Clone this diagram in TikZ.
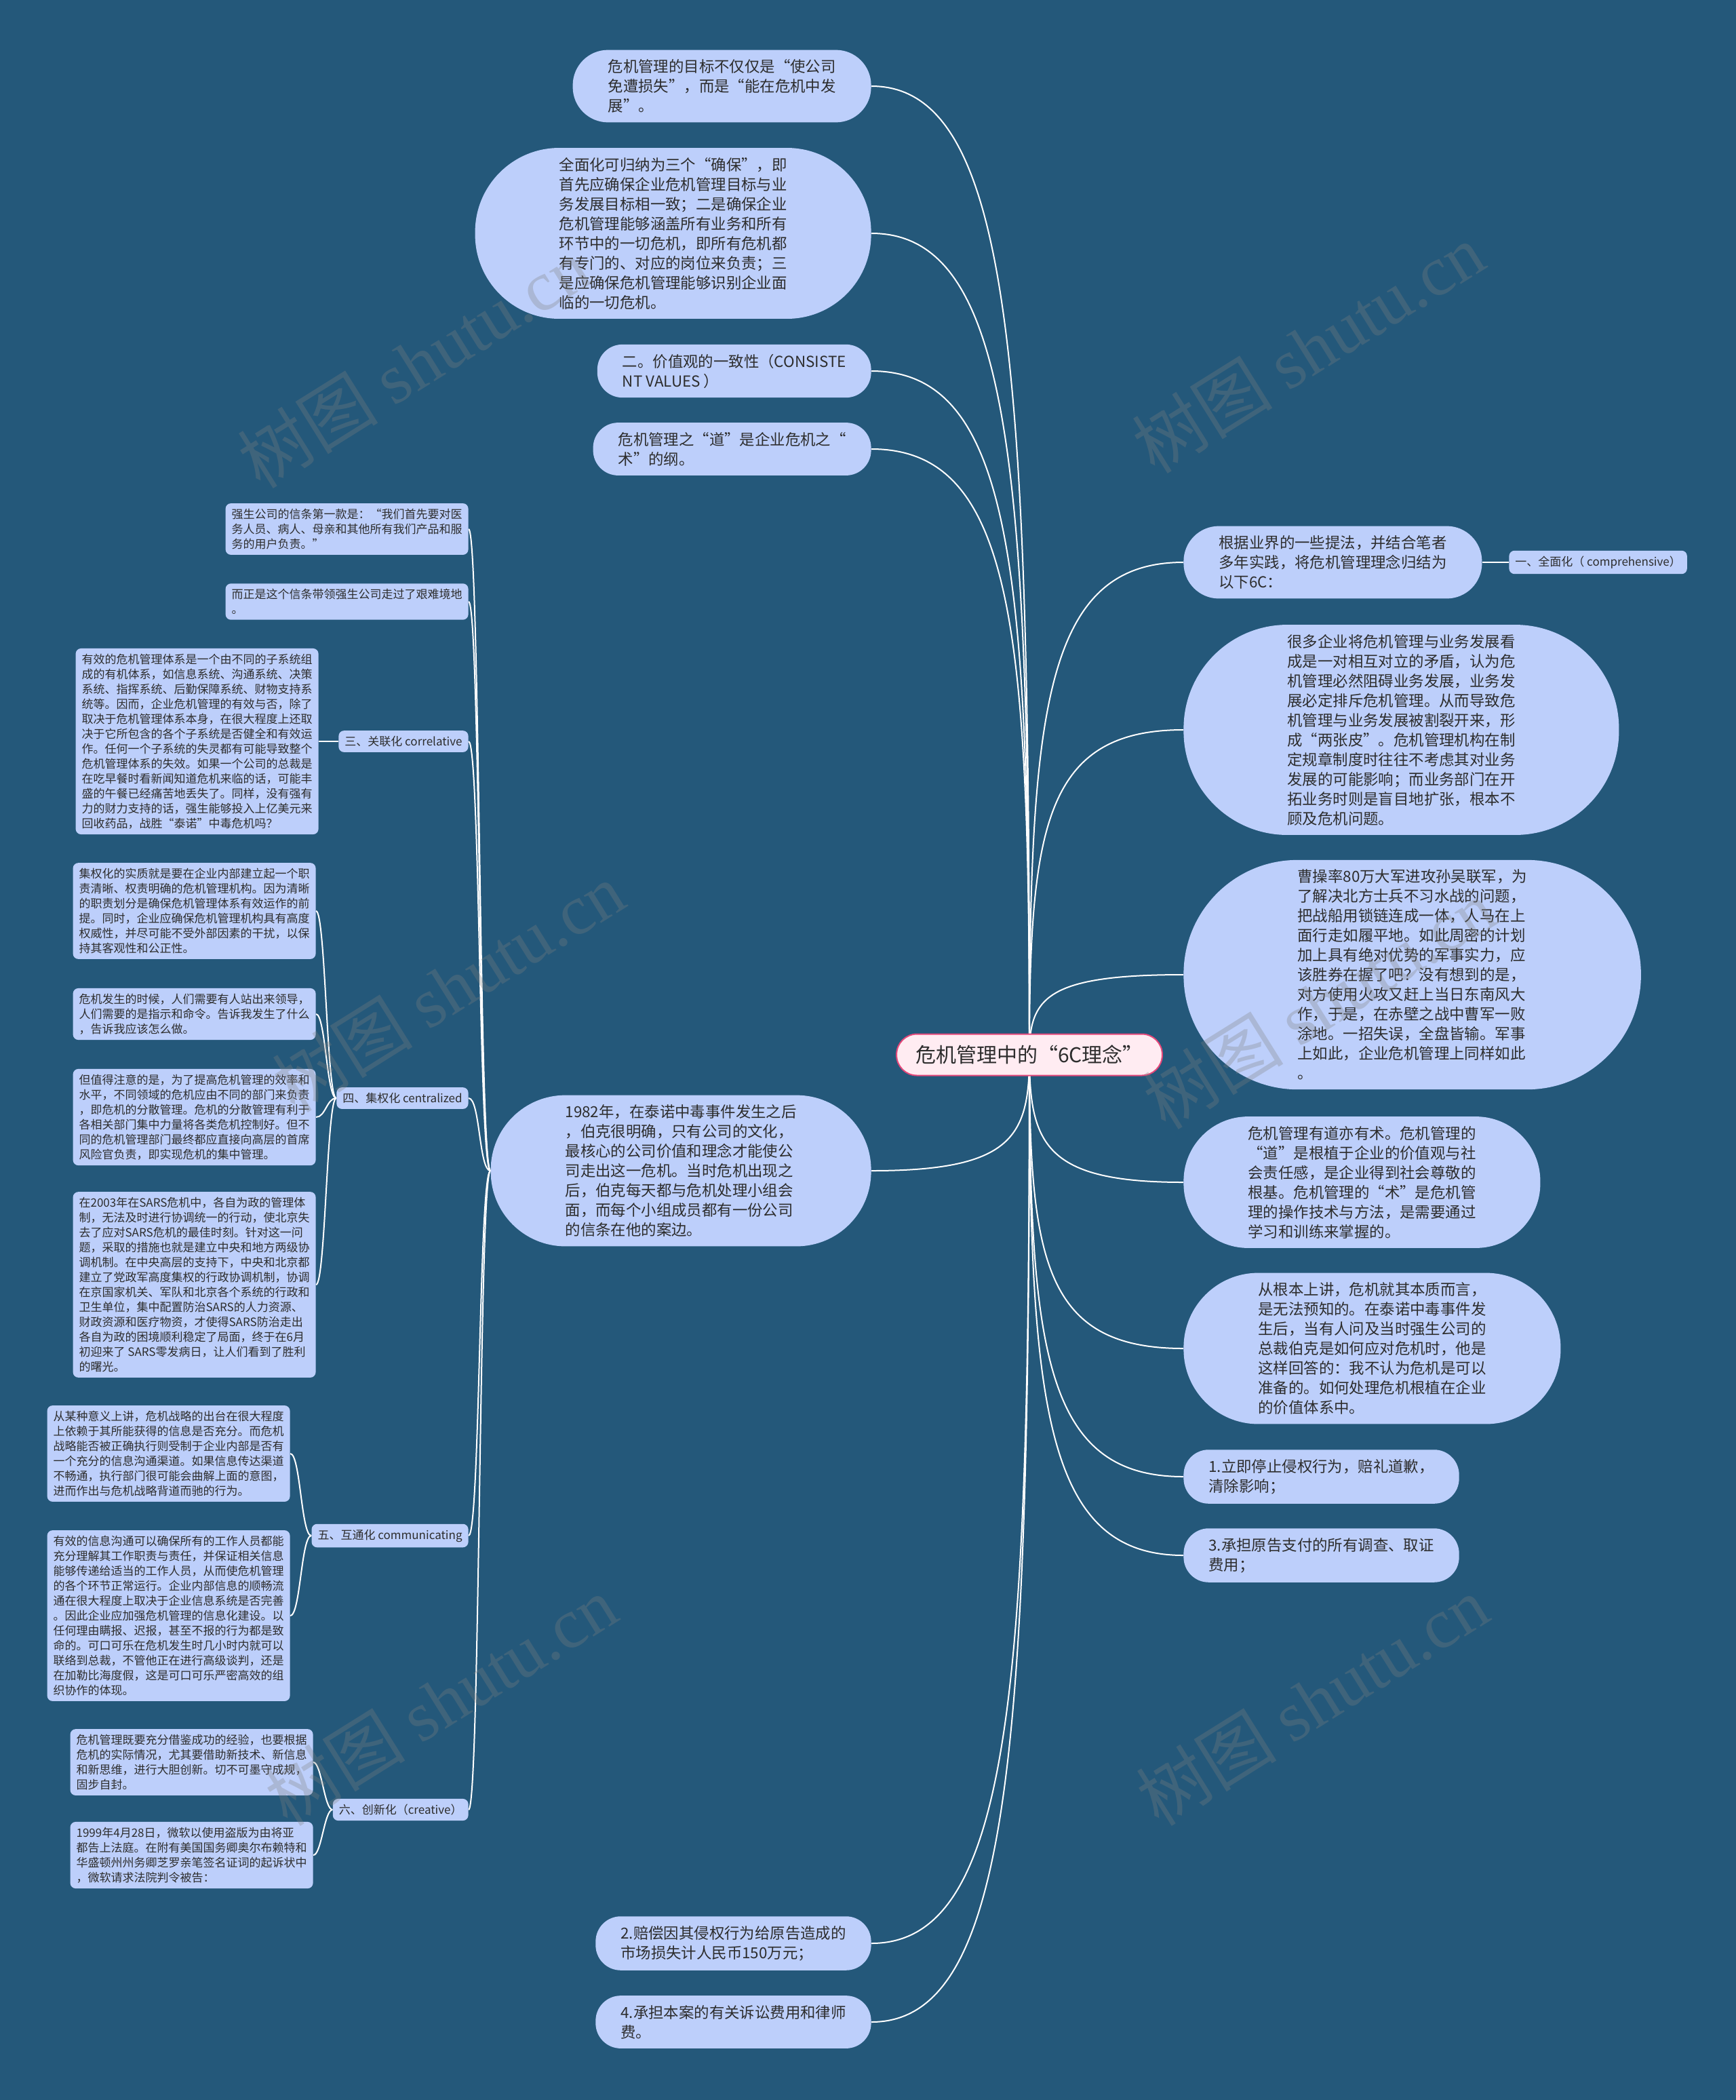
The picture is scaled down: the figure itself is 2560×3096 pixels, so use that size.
\documentclass[tikz,border=0pt]{standalone}
\usepackage{fontspec}
\setmainfont{Noto Sans CJK SC}
\newfontfamily\wmfont{Liberation Serif}
\usetikzlibrary{calc}
\definecolor{bgblue}{RGB}{36,88,122}
\definecolor{pill}{RGB}{189,207,251}
\definecolor{ink}{RGB}{45,45,45}
\definecolor{rootfill}{RGB}{255,236,242}
\definecolor{rootline}{RGB}{228,72,122}
\pgfdeclarelayer{links}
\pgfsetlayers{links,main}
\tikzset{
  big/.style={rectangle, rounded corners=#1, inner xsep=#1, inner ysep=7pt, fill=pill, text=ink, align=left, font=\fontsize{11.2pt}{14.5pt}\selectfont},
  small/.style={rectangle, rounded corners=4pt, fill=pill, text=ink, align=left, inner xsep=4.5pt, inner ysep=4pt, font=\fontsize{8.5pt}{11pt}\selectfont},
  trunk/.style={draw=white, line width=1pt, to path={.. controls ($(\tikztostart)!0.7!(\tikztostart |- \tikztotarget)$) and ($(\tikztotarget)!0.9!(\tikztostart |- \tikztotarget)$) .. (\tikztotarget)}},
  sub/.style={draw=white, line width=1pt, out=180, in=0, out distance=#1, in distance=#1},
  sub/.default=7pt,
  wm/.style={rotate=32, text=gray, opacity=0.3, font=\fontsize{52pt}{52pt}\selectfont}
}
\begin{document}
\begin{tikzpicture}[x=0.5pt, y=-0.5pt]
\useasboundingbox (0,0) rectangle (2560,3096);

\node[rectangle, rounded corners=15pt, fill=rootfill, draw=rootline, line width=1pt, text=ink, inner xsep=14pt, inner ysep=0pt, minimum height=30.5pt, font=\fontsize{15pt}{18pt}\selectfont] (root) at (1518,1555) {危机管理中的“6C理念”};

% left column
\node[big=26pt, anchor=east] (n1) at (1285,127) {危机管理的目标不仅仅是“使公司\\免遭损失”，而是“能在危机中发\\展”。};
\node[big=62pt, anchor=east] (n2) at (1285,344) {全面化可归纳为三个“确保”，即\\首先应确保企业危机管理目标与业\\务发展目标相一致；二是确保企业\\危机管理能够涵盖所有业务和所有\\环节中的一切危机，即所有危机都\\有专门的、对应的岗位来负责；三\\是应确保危机管理能够识别企业面\\临的一切危机。};
\node[big=18.5pt, anchor=east] (n3) at (1285,547) {二。价值观的一致性（CONSISTE\\NT VALUES ）};
\node[big=18.5pt, anchor=east] (n4) at (1285,662) {危机管理之“道”是企业危机之“\\术”的纲。};
\node[big=55pt, anchor=east] (n5) at (1285,1726) {1982年，在泰诺中毒事件发生之后\\，伯克很明确，只有公司的文化，\\最核心的公司价值和理念才能使公\\司走出这一危机。当时危机出现之\\后，伯克每天都与危机处理小组会\\面，而每个小组成员都有一份公司\\的信条在他的案边。};
\node[big=18.5pt, anchor=east] (n6) at (1285,2865) {2.赔偿因其侵权行为给原告造成的\\市场损失计人民币150万元；};
\node[big=18.5pt, anchor=east] (n7) at (1285,2981) {4.承担本案的有关诉讼费用和律师\\费。};

% right column
\node[big=26pt, anchor=west] (n8) at (1745,829) {根据业界的一些提法，并结合笔者\\多年实践，将危机管理理念归结为\\以下6C：};
\node[small, anchor=west] (comp) at (2225,829) {一、全面化（ comprehensive）};
\node[big=76.5pt, anchor=west] (n9) at (1745,1076) {很多企业将危机管理与业务发展看\\成是一对相互对立的矛盾，认为危\\机管理必然阻碍业务发展，业务发\\展必定排斥危机管理。从而导致危\\机管理与业务发展被割裂开来，形\\成“两张皮”。危机管理机构在制\\定规章制度时往往不考虑其对业务\\发展的可能影响；而业务部门在开\\拓业务时则是盲目地扩张，根本不\\顾及危机问题。};
\node[big=84pt, anchor=west] (n10) at (1745,1437) {曹操率80万大军进攻孙吴联军，为\\了解决北方士兵不习水战的问题，\\把战船用锁链连成一体，人马在上\\面行走如履平地。如此周密的计划\\加上具有绝对优势的军事实力，应\\该胜券在握了吧？没有想到的是，\\对方使用火攻又赶上当日东南风大\\作，于是，在赤壁之战中曹军一败\\涂地。一招失误，全盘皆输。军事\\上如此，企业危机管理上同样如此\\。};
\node[big=47.5pt, anchor=west] (n11) at (1745,1743) {危机管理有道亦有术。危机管理的\\“道”是根植于企业的价值观与社\\会责任感，是企业得到社会尊敬的\\根基。危机管理的“术”是危机管\\理的操作技术与方法，是需要通过\\学习和训练来掌握的。};
\node[big=55pt, anchor=west] (n12) at (1745,1988) {从根本上讲，危机就其本质而言，\\是无法预知的。在泰诺中毒事件发\\生后，当有人问及当时强生公司的\\总裁伯克是如何应对危机时，他是\\这样回答的：我不认为危机是可以\\准备的。如何处理危机根植在企业\\的价值体系中。};
\node[big=18.5pt, anchor=west] (n13) at (1745,2177) {1.立即停止侵权行为，赔礼道歉，\\清除影响；};
\node[big=18.5pt, anchor=west] (n14) at (1745,2293) {3.承担原告支付的所有调查、取证\\费用；};

% branches of the 1982 node
\node[small, anchor=east] (a) at (691,780) {强生公司的信条第一款是：“我们首先要对医\\务人员、病人、母亲和其他所有我们产品和服\\务的用户负责。”};
\node[small, anchor=east] (b) at (691,887) {而正是这个信条带领强生公司走过了艰难境地\\。};
\node[small, anchor=east] (c3) at (691,1093) {三、关联化 correlative};
\node[small, anchor=east] (c4) at (691,1619) {四、集权化 centralized};
\node[small, anchor=east] (c5) at (691,2264) {五、互通化 communicating};
\node[small, anchor=east] (c6) at (691,2668) {六、创新化（creative）};

\node[small, anchor=east] (c3a) at (470,1093) {有效的危机管理体系是一个由不同的子系统组\\成的有机体系，如信息系统、沟通系统、决策\\系统、指挥系统、后勤保障系统、财物支持系\\统等。因而，企业危机管理的有效与否，除了\\取决于危机管理体系本身，在很大程度上还取\\决于它所包含的各个子系统是否健全和有效运\\作。任何一个子系统的失灵都有可能导致整个\\危机管理体系的失效。如果一个公司的总裁是\\在吃早餐时看新闻知道危机来临的话，可能丰\\盛的午餐已经痛苦地丢失了。同样，没有强有\\力的财力支持的话，强生能够投入上亿美元来\\回收药品，战胜“泰诺”中毒危机吗？};

\node[small, anchor=east] (c4a) at (466,1343) {集权化的实质就是要在企业内部建立起一个职\\责清晰、权责明确的危机管理机构。因为清晰\\的职责划分是确保危机管理体系有效运作的前\\提。同时，企业应确保危机管理机构具有高度\\权威性，并尽可能不受外部因素的干扰，以保\\持其客观性和公正性。};
\node[small, anchor=east] (c4b) at (466,1495) {危机发生的时候，人们需要有人站出来领导，\\人们需要的是指示和命令。告诉我发生了什么\\，告诉我应该怎么做。};
\node[small, anchor=east] (c4c) at (466,1647) {但值得注意的是，为了提高危机管理的效率和\\水平，不同领域的危机应由不同的部门来负责\\，即危机的分散管理。危机的分散管理有利于\\各相关部门集中力量将各类危机控制好。但不\\同的危机管理部门最终都应直接向高层的首席\\风险官负责，即实现危机的集中管理。};
\node[small, anchor=east] (c4d) at (466,1894) {在2003年在SARS危机中，各自为政的管理体\\制，无法及时进行协调统一的行动，使北京失\\去了应对SARS危机的最佳时刻。针对这一问\\题，采取的措施也就是建立中央和地方两级协\\调机制。在中央高层的支持下，中央和北京都\\建立了党政军高度集权的行政协调机制，协调\\在京国家机关、军队和北京各个系统的行政和\\卫生单位，集中配置防治SARS的人力资源、\\财政资源和医疗物资，才使得SARS防治走出\\各自为政的困境顺利稳定了局面，终于在6月\\初迎来了 SARS零发病日，让人们看到了胜利\\的曙光。};

\node[small, anchor=east] (c5a) at (428,2143) {从某种意义上讲，危机战略的出台在很大程度\\上依赖于其所能获得的信息是否充分。而危机\\战略能否被正确执行则受制于企业内部是否有\\一个充分的信息沟通渠道。如果信息传达渠道\\不畅通，执行部门很可能会曲解上面的意图，\\进而作出与危机战略背道而驰的行为。};
\node[small, anchor=east] (c5b) at (428,2382) {有效的信息沟通可以确保所有的工作人员都能\\充分理解其工作职责与责任，并保证相关信息\\能够传递给适当的工作人员，从而使危机管理\\的各个环节正常运行。企业内部信息的顺畅流\\通在很大程度上取决于企业信息系统是否完善\\。因此企业应加强危机管理的信息化建设。以\\任何理由瞒报、迟报，甚至不报的行为都是致\\命的。可口可乐在危机发生时几小时内就可以\\联络到总裁，不管他正在进行高级谈判，还是\\在加勒比海度假，这是可口可乐严密高效的组\\织协作的体现。};

\node[small, anchor=east] (c6a) at (462,2598) {危机管理既要充分借鉴成功的经验，也要根据\\危机的实际情况，尤其要借助新技术、新信息\\和新思维，进行大胆创新。切不可墨守成规，\\固步自封。};
\node[small, anchor=east] (c6b) at (462,2735) {1999年4月28日，微软以使用盗版为由将亚\\都告上法庭。在附有美国国务卿奥尔布赖特和\\华盛顿州州务卿芝罗亲笔签名证词的起诉状中\\，微软请求法院判令被告：};

\begin{pgfonlayer}{links}
\fill[bgblue] (0,0) rectangle (2560,3096);
\foreach \n in {n1,n2,n3,n4,n5,n6,n7}
  \draw[trunk] (root.center) to (\n.east);
\foreach \n in {n8,n9,n10,n11,n12,n13,n14}
  \draw[trunk] (root.center) to (\n.west);
\draw[white, line width=1pt] (n8.east) -- (comp.west);
\foreach \n in {a,b,c3,c4,c5,c6}
  \draw[sub=8.5pt] (n5.west) to (\n.east);
\draw[sub] (c3.west) to (c3a.east);
\foreach \n in {c4a,c4b,c4c,c4d}
  \draw[sub=7pt] (c4.west) to (\n.east);
\foreach \n in {c5a,c5b}
  \draw[sub=7.5pt] (c5.west) to (\n.east);
\foreach \n in {c6a,c6b}
  \draw[sub=6pt] (c6.west) to (\n.east);
\end{pgfonlayer}

% watermark
\foreach \p [count=\i] in {(610,535),(1929,513),(661,1455),(1945,1480),(650,2507),(1935,2507)}
  \node[wm] (wm\i) at \p {树图 {\wmfont shutu.cn}};
\end{tikzpicture}
\end{document}
